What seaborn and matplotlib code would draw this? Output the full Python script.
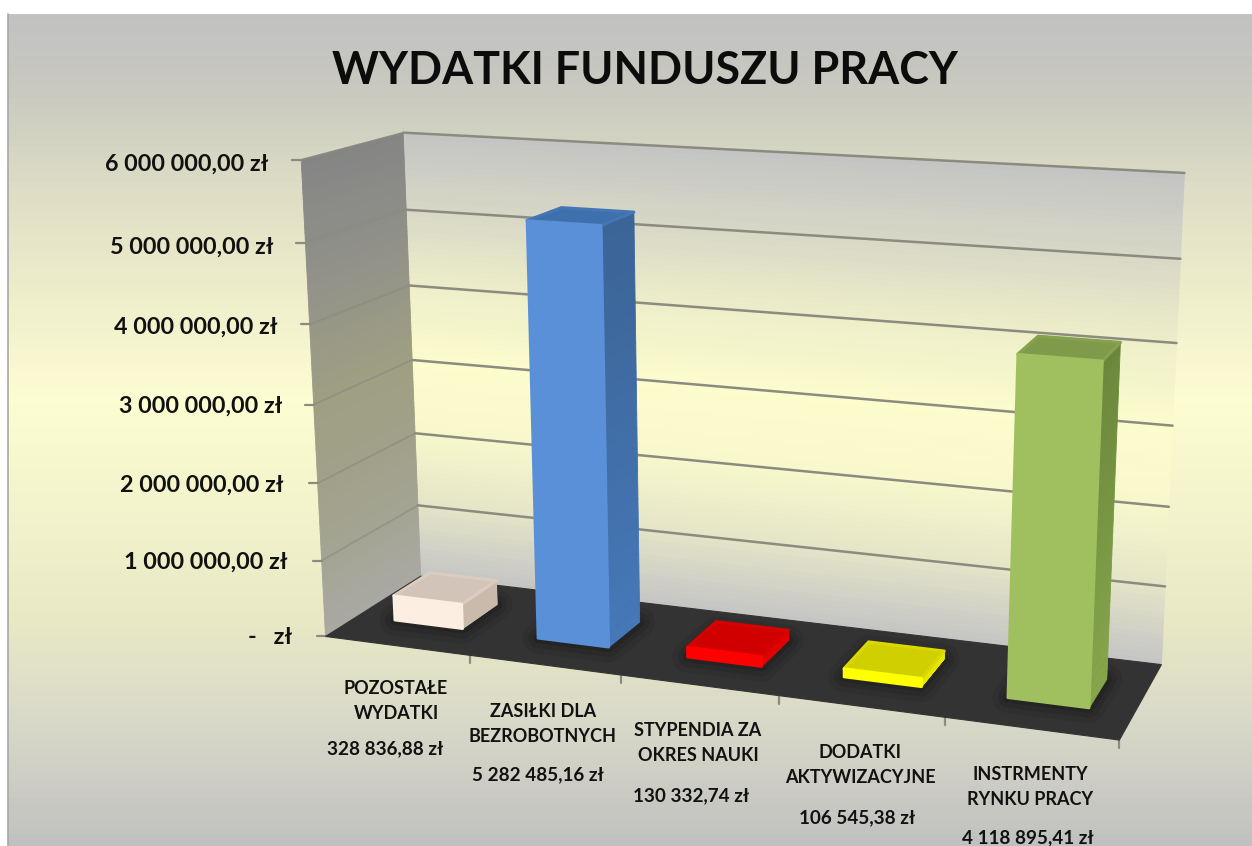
import numpy as np
import pandas as pd
import seaborn as sns
import matplotlib
matplotlib.use("Agg")
import matplotlib.pyplot as plt
from matplotlib.collections import PolyCollection
from matplotlib.colors import LinearSegmentedColormap, to_rgb
from matplotlib.patches import Polygon

# Data
categories = ["POZOSTAŁE\nWYDATKI", "ZASIŁKI DLA\nBEZROBOTNYCH", "STYPENDIA ZA\nOKRES NAUKI",
              "DODATKI\nAKTYWIZACYJNE", "INSTRMENTY\nRYNKU PRACY"]
values = [328836.88, 5282485.16, 130332.74, 106545.38, 4118895.41]
y_ticks = [0, 1000000, 2000000, 3000000, 4000000, 5000000, 6000000]
title = "WYDATKI FUNDUSZU PRACY"

# Colours of each bar: front, top, side at the top, side at the bottom
front_colors = ["#fdeee2", "#5a90d8", "#ff0000", "#ffff00", "#a0c060"]
top_colors = ["#d2c4b8", "#3f70ae", "#d00000", "#d0d000", "#7f9a4a"]
side_top = ["#c9baac", "#3b6496", "#e00000", "#e6e600", "#6b873c"]
side_bottom = ["#c9baac", "#4678b8", "#e00000", "#e6e600", "#86a64c"]

# Label layout in pixels
cat_label_xy = [(396, 701), (543, 724), (698, 743), (860, 765), (1030, 787)]
val_label_xy = [(385, 749), (538, 775), (691, 796), (857, 818), (1028, 838)]
tick_label_right = [292, 288, 284, 282, 277, 273, 268]
tick_label_y = [638, 562, 485, 406, 327, 247, 164]

BAR_WIDTH = 0.48
Z_FRONT, Z_BACK = 0.33, 0.72

# Where the chart box lands in the picture: (cat, value in millions, depth) -> pixel
anchors = [
    ((0, 0, 0), (328, 635)), ((5, 0, 0), (1119, 738)), ((5, 0, 1), (1162, 663)), ((0, 0, 1), (420, 577)),
    ((0, 6, 1), (403, 133)), ((5, 6, 1), (1184, 172)), ((0, 6, 0), (303, 160)),
    ((1, 0, 0), (469, 655)), ((2, 0, 0), (621, 676)), ((3, 0, 0), (780, 698)), ((4, 0, 0), (945, 719)),
    ((0, 5, 1), (407, 210)), ((0, 4, 1), (409, 286)), ((0, 3, 1), (412, 359)),
    ((5, 5, 1), (1181, 260)), ((5, 4, 1), (1177, 343)), ((5, 3, 1), (1172, 426)),
    ((0, 5, 0), (305, 242)), ((0, 4, 0), (307, 324)),
]
A, b = [], []
for (X, Y, Z), (u, v) in anchors:
    A.append([X, Y, Z, 1, 0, 0, 0, 0, -u * X, -u * Y, -u * Z])
    A.append([0, 0, 0, 0, X, Y, Z, 1, -v * X, -v * Y, -v * Z])
    b += [u, v]
P = np.append(np.linalg.lstsq(np.array(A, float), np.array(b, float), rcond=None)[0], 1).reshape(3, 4)


def project(X, Y, Z):
    w = P @ np.array([X, Y, Z, 1.0])
    return w[0] / w[2], w[1] / w[2]


def fmt_pln(v):
    return f"{v:,.2f}".replace(",", " ").replace(".", ",") + " zł"


def mix(c1, c2, t=0.5):
    return tuple((1 - t) * p + t * q for p, q in zip(to_rgb(c1), to_rgb(c2)))


sns.set_theme(style="white")
plt.rcParams["font.family"] = ["Lato", "DejaVu Sans"]
plt.rcParams["font.weight"] = "bold"

fig = plt.figure(figsize=(12.52, 8.46), dpi=100, facecolor="white")

# seaborn works out the bars, they are then projected onto the canvas
data_ax = fig.add_axes([0, 0, 1, 1])
df = pd.DataFrame({"cat": categories, "value": values})
sns.barplot(data=df, x="cat", y="value", hue="cat", palette=front_colors, saturation=1,
            width=BAR_WIDTH, legend=False, ax=data_ax)
bars = [(p.get_x() + 0.5, p.get_width(), p.get_height() / 1e6) for p in data_ax.patches]
data_ax.set_visible(False)

ax = fig.add_axes([0, 0, 1, 1])
ax.set_xlim(0, 1252)
ax.set_ylim(846, 0)
ax.axis("off")


def gradient(stops):
    lo, hi = stops[0][0], stops[-1][0]
    cmap = LinearSegmentedColormap.from_list("g", [((s - lo) / (hi - lo), c) for s, c in stops])
    return lambda s: cmap((s - lo) / (hi - lo))


def strips(edge_fn, color_fn, ts, zorder):
    polys, cols = [], []
    for t0, t1 in zip(ts[:-1], ts[1:]):
        a0, b0 = edge_fn(t0)
        a1, b1 = edge_fn(t1)
        polys.append([a0, b0, b1, a1])
        cols.append(color_fn((t0 + t1) / 2))
    ax.add_collection(PolyCollection(polys, facecolors=cols, edgecolors="face", linewidths=0.6,
                                     antialiaseds=True, zorder=zorder))


# Background
bg = gradient([(14, "#c1c1c1"), (90, "#c9c9c0"), (200, "#e0dfc5"), (400, "#fdfdd2"),
               (620, "#e8e8c5"), (720, "#d9d9c8"), (846, "#c0c0c0")])
strips(lambda t: ((8, t), (1252, t)), bg, np.linspace(14, 846, 140), 1)
ax.plot([8, 8], [14, 846], color="#a8a8a8", lw=1.2, zorder=2)

# Walls and floor
back = gradient([(0, "#c4c4c4"), (1, "#e4e4c8"), (2, "#f8f8cc"), (3, "#fcfccd"),
                 (4, "#eeeeca"), (5, "#d8d8c6"), (6, "#c4c4c4")])
strips(lambda t: (project(0, t, 1), project(5, t, 1)), back, np.linspace(0, 6, 90), 3)
left = gradient([(0, "#a9a9a3"), (1.5, "#a2a28e"), (3, "#9f9f82"), (4.5, "#92928a"), (6, "#858585")])
strips(lambda t: (project(0, t, 0), project(0, t, 1)), left, np.linspace(0, 6, 90), 3)
floor = Polygon([project(0, 0, 0), project(5, 0, 0), project(5, 0, 1), project(0, 0, 1)],
                closed=True, facecolor="#333333", edgecolor="#333333", lw=0.8, zorder=4)
ax.add_patch(floor)

# Grid lines and ticks
GRID = "#8b8b80"
for tv in y_ticks:
    Y = tv / 1e6
    if tv > 0:
        pts = [project(0, Y, 0), project(0, Y, 1), project(5, Y, 1)]
        ax.plot(*zip(*pts[1:]), color=GRID, lw=1.8, zorder=3.5)
        ax.plot(*zip(*pts[:2]), color=GRID, lw=1.2, alpha=0.7, zorder=3.5)
    x0, y0 = project(0, Y, 0)
    ax.plot([x0 - 9, x0], [y0, y0], color=GRID, lw=1.6, zorder=3.5)
for i in range(1, 6):
    x0, y0 = project(i, 0, 0)
    ax.plot([x0, x0], [y0, y0 + 8], color=GRID, lw=1.6, zorder=3.5)

# Bars
for i, (x, w, h) in enumerate(bars):
    xl, xr = x, x + w
    base = [project(xl, 0, Z_FRONT), project(xr, 0, Z_FRONT), project(xr, 0, Z_BACK), project(xl, 0, Z_BACK)]
    for lw, alpha in [(22, 0.07), (14, 0.1), (7, 0.14)]:
        sh = Polygon(base, closed=True, facecolor="black", edgecolor="black", lw=lw, alpha=alpha,
                     joinstyle="round", zorder=4.5)
        ax.add_patch(sh)
        sh.set_clip_path(floor)
    z = 5 + i
    side = gradient([(0, side_bottom[i]), (1, side_top[i])])
    strips(lambda t: (project(xr, t * h, Z_FRONT), project(xr, t * h, Z_BACK)), side, np.linspace(0, 1, 30), z)
    top = [project(xl, h, Z_FRONT), project(xr, h, Z_FRONT), project(xr, h, Z_BACK), project(xl, h, Z_BACK)]
    # rounded bevel round the top face
    ax.add_patch(Polygon(top, closed=True, facecolor=top_colors[i], edgecolor=mix(top_colors[i], front_colors[i], 0.2),
                         lw=2.2, joinstyle="round", zorder=z + 0.1))
    fr = [project(xl, 0, Z_FRONT), project(xr, 0, Z_FRONT), project(xr, h, Z_FRONT), project(xl, h, Z_FRONT)]
    ax.add_patch(Polygon(fr, closed=True, facecolor=front_colors[i], edgecolor=front_colors[i], lw=1.8,
                         joinstyle="round", zorder=z + 0.2))

# Text
TEXT = "#111111"
ax.text(645, 71, title, fontsize=32.2, ha="center", va="center", color="#0c0c0c", zorder=20)
for tv, xr, yy in zip(y_ticks, tick_label_right, tick_label_y):
    label = fmt_pln(tv) if tv > 0 else "-   zł"
    ax.text(xr, yy, label, fontsize=16.8, ha="right", va="center", color=TEXT, zorder=20)
for cat, val, (cx, cy), (vx, vy) in zip(categories, values, cat_label_xy, val_label_xy):
    ax.text(cx, cy, cat, fontsize=13, ha="center", va="center", linespacing=1.58, color=TEXT, zorder=20)
    ax.text(vx, vy, fmt_pln(val), fontsize=13.6, ha="center", va="center", color=TEXT, zorder=20)

fig.savefig("out.png", dpi=100, facecolor="white")
